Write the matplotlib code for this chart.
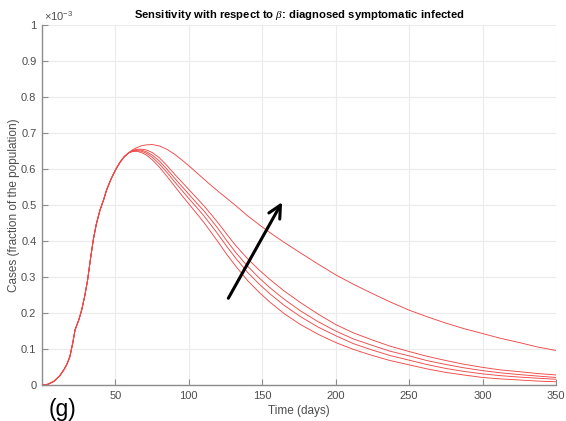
"""
Sensitivity of diagnosed symptomatic infected cases with respect to beta.
Saves out.png (566x421).
"""

import matplotlib
matplotlib.use("Agg")
import matplotlib.pyplot as plt
import numpy as np
from matplotlib.ticker import FuncFormatter

plt.rcParams["font.family"] = ["Liberation Sans", "DejaVu Sans"]
plt.rcParams["mathtext.fontset"] = "custom"
plt.rcParams["mathtext.rm"] = "Liberation Sans"
plt.rcParams["mathtext.it"] = "Liberation Serif:italic"

# ── data (cases in units of 1e-3 of the population) ──
# shared growth phase
rise_days = [0, 4, 8, 12, 15, 17, 19, 21, 22.5, 25, 27, 29, 31, 33, 35, 37,
             39.5, 42, 44, 47, 50, 53, 56, 59]
rise_vals = [0, 0.002, 0.010, 0.025, 0.043, 0.058, 0.079, 0.118, 0.153,
             0.180, 0.208, 0.245, 0.290, 0.350, 0.405, 0.447, 0.486, 0.515,
             0.542, 0.572, 0.597, 0.618, 0.634, 0.645]

# decay phase, one curve per beta value (lowest to highest)
tail_days = [62, 65, 68, 71, 75, 80, 85, 90, 95, 100, 105, 110, 115, 120,
             126, 132, 140, 148, 155, 165, 176, 188, 200, 212, 225, 237,
             250, 262, 275, 287, 300, 312, 325, 337, 350]
curve_1 = [0.649, 0.649, 0.645, 0.639, 0.626, 0.605, 0.580, 0.554, 0.528,
           0.503, 0.478, 0.453, 0.425, 0.397, 0.362, 0.330, 0.290, 0.257,
           0.231, 0.198, 0.168, 0.141, 0.118, 0.099, 0.082, 0.068, 0.056,
           0.045, 0.035, 0.028, 0.021, 0.017, 0.014, 0.011, 0.009]
curve_2 = [0.650, 0.651, 0.649, 0.644, 0.633, 0.614, 0.591, 0.566, 0.542,
           0.518, 0.495, 0.471, 0.445, 0.418, 0.384, 0.352, 0.313, 0.280,
           0.254, 0.221, 0.190, 0.161, 0.137, 0.115, 0.097, 0.082, 0.069,
           0.057, 0.046, 0.038, 0.031, 0.026, 0.022, 0.019, 0.016]
curve_3 = [0.651, 0.653, 0.652, 0.648, 0.639, 0.622, 0.600, 0.576, 0.553,
           0.530, 0.507, 0.485, 0.460, 0.434, 0.400, 0.368, 0.330, 0.297,
           0.271, 0.238, 0.206, 0.176, 0.150, 0.128, 0.110, 0.094, 0.081,
           0.068, 0.057, 0.048, 0.040, 0.034, 0.029, 0.025, 0.021]
curve_4 = [0.652, 0.655, 0.655, 0.653, 0.646, 0.631, 0.610, 0.587, 0.565,
           0.543, 0.521, 0.499, 0.475, 0.450, 0.418, 0.387, 0.351, 0.319,
           0.294, 0.261, 0.229, 0.197, 0.168, 0.145, 0.125, 0.108, 0.093,
           0.080, 0.068, 0.058, 0.049, 0.042, 0.037, 0.032, 0.028]
curve_5 = [0.654, 0.660, 0.665, 0.667, 0.668, 0.664, 0.655, 0.642, 0.626,
           0.609, 0.591, 0.573, 0.555, 0.538, 0.518, 0.498, 0.470, 0.445,
           0.424, 0.396, 0.367, 0.336, 0.306, 0.280, 0.254, 0.231, 0.208,
           0.190, 0.172, 0.157, 0.143, 0.130, 0.118, 0.106, 0.096]

arrow_start = (126.9, 0.241)
arrow_end = (163.5, 0.508)

x_ticks = [50, 100, 150, 200, 250, 300, 350]
y_ticks = [0, 0.1, 0.2, 0.3, 0.4, 0.5, 0.6, 0.7, 0.8, 0.9, 1]

LINE = "#f04848"
TICK = "#4d4d4d"

fig = plt.figure(figsize=(5.66, 4.21), dpi=100)
ax = fig.add_axes([0.0742, 0.0855, 0.908, 0.8551])

for vals in [curve_1, curve_2, curve_3, curve_4, curve_5]:
    x = np.concatenate([rise_days, tail_days])
    y = np.concatenate([rise_vals, vals])
    ax.plot(x, y, color=LINE, lw=0.65)

ax.annotate("", xy=arrow_end, xytext=arrow_start,
            arrowprops=dict(arrowstyle="->,head_length=0.9,head_width=0.45",
                            color="black", lw=2.2, shrinkA=0, shrinkB=0))

ax.set_xlim(0, 350)
ax.set_ylim(0, 1)
ax.set_xticks(x_ticks)
ax.set_yticks(y_ticks)
ax.yaxis.set_major_formatter(FuncFormatter(lambda v, p: f"{v:g}"))
ax.grid(True, color="#ebebeb", lw=0.8)
ax.set_axisbelow(True)
for side in ("top", "right"):
    ax.spines[side].set_visible(False)
for side in ("left", "bottom"):
    ax.spines[side].set_color("#8c8c8c")
    ax.spines[side].set_linewidth(1.0)
ax.tick_params(direction="in", length=4, width=0.8, color="#8c8c8c",
               labelcolor=TICK, labelsize=8, pad=4)

ax.set_xlabel("Time (days)", fontsize=8.5, color=TICK, labelpad=3)
ax.set_ylabel("Cases (fraction of the population)", fontsize=8.5, color=TICK,
              labelpad=1)
ax.set_title(r"Sensitivity with respect to $\beta$: diagnosed symptomatic infected",
             fontsize=8.1, fontweight="bold", pad=5)
ax.text(0.003, 1.005, r"$\times10^{-3}$", transform=ax.transAxes,
        fontsize=8, color=TICK, ha="left", va="bottom")
fig.text(0.086, 0.0, "(g)", fontsize=16.5, ha="left", va="bottom")

fig.savefig("out.png", dpi=100)
